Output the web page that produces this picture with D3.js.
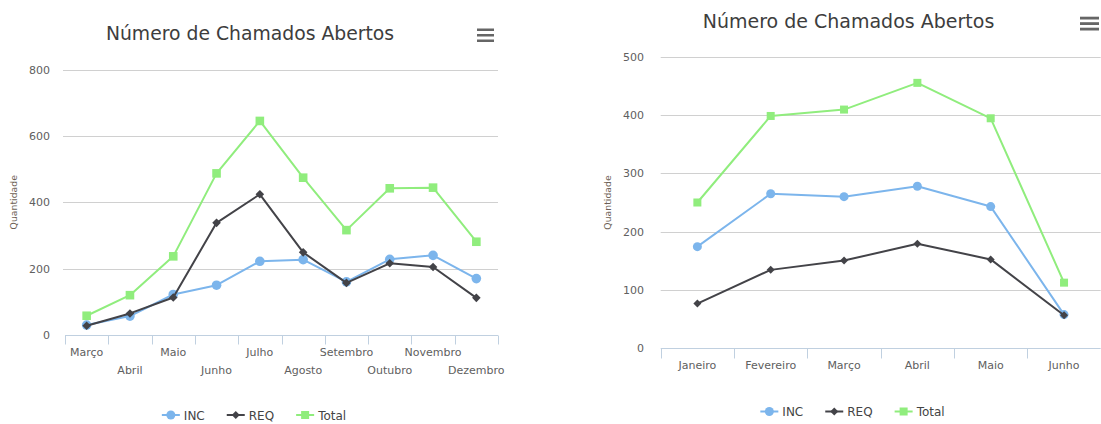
<!DOCTYPE html>
<html>
<head>
<meta charset="utf-8">
<script src="https://cdn.jsdelivr.net/npm/d3@7"></script>
<style>
  html, body { margin: 0; padding: 0; background: #fff; }
  svg { display: block; font-family: "DejaVu Sans", sans-serif; }
</style>
</head>
<body>
<svg id="chart" width="1101" height="424"></svg>
<script>
// ---------- DATA ----------
const titleText = "Número de Chamados Abertos";
const yAxisTitle = "Quantidade";
const seriesNames = ["INC", "REQ", "Total"];

const leftCategories = ["Março", "Abril", "Maio", "Junho", "Julho", "Agosto", "Setembro", "Outubro", "Novembro", "Dezembro"];
const leftINC   = [30, 57, 122, 150, 222, 227, 160, 228, 240, 170];
const leftREQ   = [28, 65, 113, 338, 424, 249, 157, 216, 205, 112];
const leftTotal = [58, 120, 237, 487, 645, 474, 316, 442, 444, 281];
const leftYTicks = [0, 200, 400, 600, 800];

const rightCategories = ["Janeiro", "Fevereiro", "Março", "Abril", "Maio", "Junho"];
const rightINC   = [174, 265, 260, 278, 243, 57];
const rightREQ   = [76, 134, 150, 179, 152, 56];
const rightTotal = [250, 399, 410, 456, 395, 112];
const rightYTicks = [0, 100, 200, 300, 400, 500];

// ---------- STYLE ----------
const colors = { INC: "#7cb5ec", REQ: "#434348", Total: "#90ed7d" };
const symbols = { INC: "circle", REQ: "diamond", Total: "square" };

const svg = d3.select("#chart");

function drawMarker(g, type, x, y, color, size) {
  if (type === "circle") {
    g.append("circle").attr("cx", x).attr("cy", y).attr("r", size).attr("fill", color);
  } else if (type === "square") {
    g.append("rect").attr("x", x - size).attr("y", y - size)
      .attr("width", size * 2).attr("height", size * 2).attr("fill", color);
  } else {
    g.append("path")
      .attr("d", `M${x},${y - size}L${x + size},${y}L${x},${y + size}L${x - size},${y}Z`)
      .attr("fill", color);
  }
}

function drawChart(cfg) {
  const g = svg.append("g");
  const x = d3.scaleBand().domain(cfg.categories).range([cfg.x0, cfg.x1]);
  const y = d3.scaleLinear().domain([0, cfg.yMax]).range([cfg.yBottom, cfg.yTop]);

  // title
  g.append("text").attr("x", cfg.titleX).attr("y", cfg.titleY)
    .attr("text-anchor", "middle").attr("font-size", cfg.titleSize)
    .attr("fill", "#3d3d3d").text(titleText);

  // menu icon
  const mi = g.append("g");
  [0, 1, 2].forEach(i => {
    mi.append("rect").attr("x", cfg.menuX).attr("y", cfg.menuY + i * cfg.menuGap)
      .attr("width", cfg.menuW).attr("height", cfg.menuH).attr("fill", "#666");
  });

  // grid lines
  cfg.yTicks.forEach(t => {
    if (t === 0) return;
    g.append("line").attr("x1", cfg.gridX0).attr("x2", cfg.x1)
      .attr("y1", Math.round(y(t)) + 0.5).attr("y2", Math.round(y(t)) + 0.5)
      .attr("stroke", "#d0d0d0").attr("stroke-width", 1);
  });

  // y tick labels
  cfg.yTicks.forEach(t => {
    g.append("text").attr("x", cfg.yLabelX).attr("y", y(t) + 4)
      .attr("text-anchor", "end").attr("font-size", cfg.labelSize)
      .attr("fill", "#606060").text(t);
  });

  // y axis title
  g.append("text")
    .attr("transform", `translate(${cfg.yTitleX},${(cfg.yTop + cfg.yBottom) / 2}) rotate(-90)`)
    .attr("text-anchor", "middle").attr("font-size", cfg.yTitleSize)
    .attr("fill", "#6d5f55").text(yAxisTitle);

  // x axis line & ticks
  const axisY = Math.round(y(0)) + 0.5;
  g.append("line").attr("x1", cfg.x0).attr("x2", cfg.x1)
    .attr("y1", axisY).attr("y2", axisY).attr("stroke", "#c0d0e0").attr("stroke-width", 1);
  const boundaries = cfg.categories.map(c => x(c)).concat([x.range()[1]]);
  boundaries.forEach(b => {
    const bx = Math.round(b) + 0.5;
    g.append("line").attr("x1", bx).attr("x2", bx)
      .attr("y1", axisY).attr("y2", axisY + cfg.tickLen)
      .attr("stroke", "#c0d0e0").attr("stroke-width", 1);
  });

  // x labels
  cfg.categories.forEach((c, i) => {
    const row = cfg.stagger ? (i % 2) : 0;
    g.append("text").attr("x", x(c) + x.bandwidth() / 2)
      .attr("y", cfg.xLabelY + row * cfg.staggerGap)
      .attr("text-anchor", "middle").attr("font-size", cfg.labelSize)
      .attr("fill", "#606060").text(c);
  });

  // series
  const seriesData = [cfg.inc, cfg.req, cfg.total];
  const line = d3.line()
    .x((d, i) => x(cfg.categories[i]) + x.bandwidth() / 2)
    .y(d => y(d));
  seriesNames.forEach((name, si) => {
    const data = seriesData[si];
    const sg = g.append("g");
    sg.append("path").attr("d", line(data)).attr("fill", "none")
      .attr("stroke", colors[name]).attr("stroke-width", 2).attr("stroke-linejoin", "round");
    data.forEach((d, i) => {
      drawMarker(sg, symbols[name], x(cfg.categories[i]) + x.bandwidth() / 2, y(d),
        colors[name], name === "Total" ? cfg.markerSize : (name === "INC" ? cfg.markerSize + 0.5 : cfg.markerSize));
    });
  });

  // legend
  const lg = g.append("g");
  const items = [];
  let cx = 0;
  seriesNames.forEach((name, si) => {
    const it = lg.append("g");
    it.append("line").attr("x1", 0).attr("x2", cfg.symW)
      .attr("y1", 0).attr("y2", 0).attr("stroke", colors[name]).attr("stroke-width", 2);
    drawMarker(it, symbols[name], cfg.symW / 2, 0, colors[name], name === "INC" ? 4.5 : 4);
    const tx = it.append("text").attr("x", cfg.symW + cfg.symPad).attr("y", 4.5)
      .attr("font-size", 12).attr("fill", "#444").text(name);
    const w = cfg.symW + cfg.symPad + tx.node().getComputedTextLength();
    it.attr("transform", `translate(${cx},0)`);
    cx += w + cfg.itemGap;
  });
  const totalW = cx - cfg.itemGap;
  lg.attr("transform", `translate(${cfg.legendCX - totalW / 2},${cfg.legendY})`);
}

drawChart({
  categories: leftCategories, inc: leftINC, req: leftREQ, total: leftTotal,
  yTicks: leftYTicks, yMax: 800,
  x0: 65, x1: 498, gridX0: 63, yTop: 69.5, yBottom: 335,
  titleX: 250, titleY: 40, titleSize: 18.8,
  menuX: 477, menuY: 28.5, menuW: 17, menuH: 2.5, menuGap: 5.5,
  yLabelX: 50, labelSize: 11, yTitleX: 17, yTitleSize: 9.3,
  tickLen: 9, xLabelY: 356, stagger: true, staggerGap: 18,
  markerSize: 4.3,
  legendCX: 254, legendY: 415, symW: 18, symPad: 4, itemGap: 22
});

drawChart({
  categories: rightCategories, inc: rightINC, req: rightREQ, total: rightTotal,
  yTicks: rightYTicks, yMax: 500,
  x0: 660.7, x1: 1100.7, gridX0: 660.7, yTop: 57.3, yBottom: 347.7,
  titleX: 848.5, titleY: 27.5, titleSize: 19,
  menuX: 1080, menuY: 16.7, menuW: 19, menuH: 2.8, menuGap: 5.5,
  yLabelX: 644, labelSize: 11, yTitleX: 611, yTitleSize: 9.3,
  tickLen: 10, xLabelY: 369, stagger: false, staggerGap: 0,
  markerSize: 4,
  legendCX: 852.5, legendY: 411.5, symW: 18, symPad: 4, itemGap: 22
});
</script>
</body>
</html>
